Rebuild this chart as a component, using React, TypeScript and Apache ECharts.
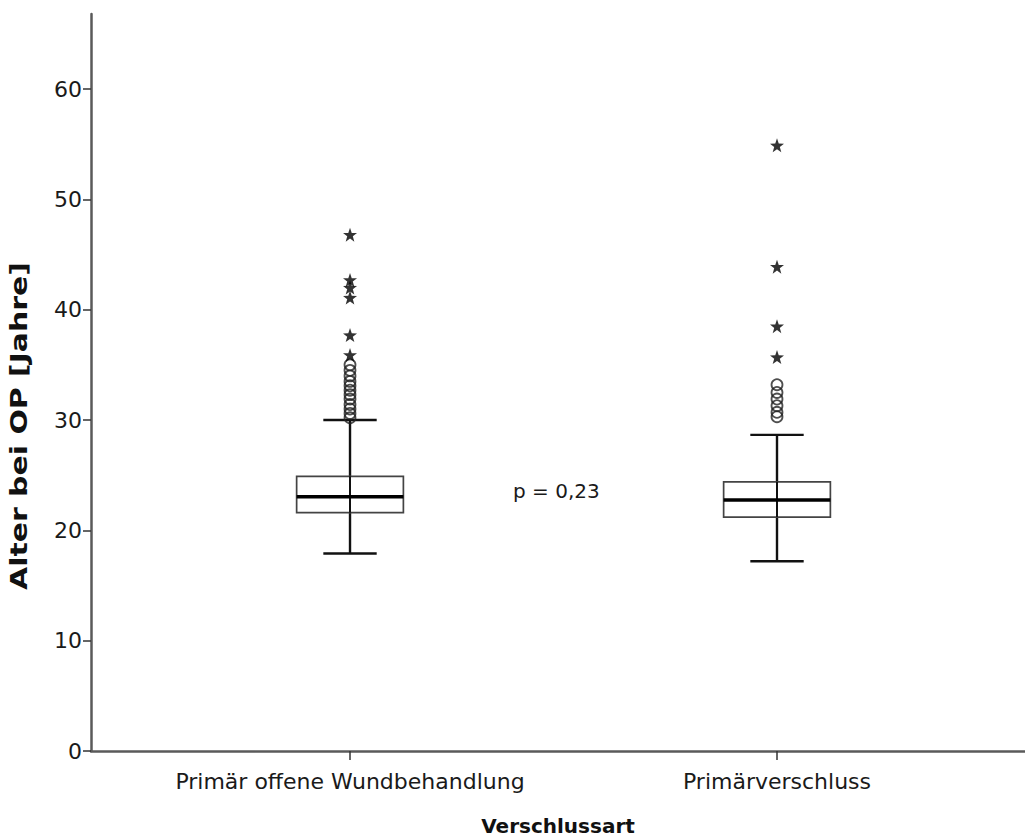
import React, { useEffect, useRef } from "react";
import * as echarts from "echarts";

// Categories (x positions 0 and 1)
const categories = ["Primär offene Wundbehandlung", "Primärverschluss"];

// Box statistics: [x, lowerWhisker, Q1, median, Q3, upperWhisker]
const boxStats = [
  [0, 17.9, 21.6, 23.05, 24.9, 30.0],
  [1, 17.2, 21.2, 22.75, 24.4, 28.65],
];

// Moderate outliers (circles)
const circleOutliers0 = [30.2, 30.6, 31.0, 31.4, 31.9, 32.3, 32.7, 33.1, 33.5, 34.0, 34.5, 35.0];
const circleOutliers1 = [30.3, 30.7, 31.3, 31.9, 32.5, 33.2];

// Extreme outliers (stars)
const starOutliers0 = [35.9, 37.7, 41.1, 42.0, 42.7, 46.8];
const starOutliers1 = [35.7, 38.5, 43.9, 54.9];

const yTicks = [0, 10, 20, 30, 40, 50, 60];
const pText = "p = 0,23";
const yTitle = "Alter bei OP [Jahre]";
const xTitle = "Verschlussart";

const STAR =
  "path://M50 0 L61.76 33.82 L97.55 34.55 L69.02 56.18 L79.39 90.45 L50 70 L20.61 90.45 L30.98 56.18 L2.45 34.55 L38.24 33.82 Z";

const FONT = "DejaVu Sans";

export default function App() {
  const ref = useRef<HTMLDivElement>(null);
  useEffect(() => {
    if (!ref.current) return;
    const chart = echarts.init(ref.current, undefined, { renderer: "svg" });

    const circles = [
      ...circleOutliers0.map((v) => [0, v]),
      ...circleOutliers1.map((v) => [1, v]),
    ];
    const stars = [
      ...starOutliers0.map((v) => [0, v]),
      ...starOutliers1.map((v) => [1, v]),
    ];

    const option: any = {
      animation: false,
      backgroundColor: "#ffffff",
      grid: { left: 91, right: 0, top: 14, bottom: 86, containLabel: false, outerBoundsMode: "none" },
      xAxis: {
        type: "value",
        min: -0.6066,
        max: 1.5808,
        name: xTitle,
        nameLocation: "middle",
        nameGap: 65,
        nameTextStyle: { fontFamily: FONT, fontWeight: "bold", fontSize: 20, color: "#111" },
        splitLine: { show: false },
        axisLine: { show: true, onZero: false, lineStyle: { color: "#5a5a5a", width: 2.5 } },
        axisTick: { show: true, customValues: [0, 1], length: 9, lineStyle: { color: "#333", width: 1.5 } },
        axisLabel: {
          customValues: [0, 1],
          formatter: (v: number) => categories[Math.round(v)] ?? "",
          fontFamily: FONT,
          fontSize: 22,
          color: "#1a1a1a",
          margin: 19,
        },
      },
      yAxis: {
        type: "value",
        min: 0,
        max: 66.8,
        splitLine: { show: false },
        axisLine: { show: true, onZero: false, lineStyle: { color: "#5a5a5a", width: 2.5 } },
        axisTick: { show: true, customValues: yTicks, length: 8, lineStyle: { color: "#333", width: 1.5 } },
        axisLabel: {
          customValues: yTicks,
          fontFamily: FONT,
          fontSize: 22,
          color: "#1a1a1a",
          margin: 9,
        },
      },
      series: [
        {
          type: "custom",
          data: boxStats,
          encode: { x: 0, y: [1, 2, 3, 4, 5] },
          z: 2,
          renderItem: (params: any, api: any) => {
            const x = api.value(0);
            const lo = api.coord([x, api.value(1)]);
            const q1 = api.coord([x, api.value(2)]);
            const md = api.coord([x, api.value(3)]);
            const q3 = api.coord([x, api.value(4)]);
            const hi = api.coord([x, api.value(5)]);
            const bw = api.size([0.25, 0])[0];
            const hb = bw / 2;
            const hc = bw / 4;
            const cx = lo[0];
            const black = { stroke: "#111", lineWidth: 2.4 };
            return {
              type: "group",
              children: [
                { type: "line", shape: { x1: cx, y1: lo[1], x2: cx, y2: q1[1] }, style: black },
                { type: "line", shape: { x1: cx, y1: q3[1], x2: cx, y2: hi[1] }, style: black },
                { type: "line", shape: { x1: cx - hc, y1: lo[1], x2: cx + hc, y2: lo[1] }, style: black },
                { type: "line", shape: { x1: cx - hc, y1: hi[1], x2: cx + hc, y2: hi[1] }, style: black },
                {
                  type: "rect",
                  shape: { x: cx - hb, y: q3[1], width: bw, height: q1[1] - q3[1] },
                  style: { fill: "none", stroke: "#444", lineWidth: 1.7 },
                },
                { type: "line", shape: { x1: cx, y1: q1[1], x2: cx, y2: q3[1] }, style: { stroke: "#111", lineWidth: 2 } },
                { type: "line", shape: { x1: cx - hb, y1: md[1], x2: cx + hb, y2: md[1] }, style: { stroke: "#000", lineWidth: 3.4 } },
              ],
            };
          },
        },
        {
          type: "scatter",
          data: circles,
          symbol: "circle",
          symbolSize: 11,
          z: 3,
          itemStyle: { color: "rgba(255,255,255,0)", borderColor: "#222", borderWidth: 1.8 },
        },
        {
          type: "scatter",
          data: stars,
          symbol: STAR,
          symbolSize: 14,
          z: 3,
          itemStyle: { color: "#000" },
        },
      ],
      graphic: [
        {
          type: "text",
          left: 513,
          top: 481,
          style: { text: pText, fontFamily: FONT, fontSize: 20, fill: "#1a1a1a" },
        },
        {
          type: "text",
          x: 19,
          y: 426,
          rotation: Math.PI / 2,
          scaleX: 1.3,
          scaleY: 1,
          style: {
            text: yTitle,
            fontFamily: FONT,
            fontWeight: "bold",
            fontSize: 23,
            fill: "#111",
            align: "center",
            verticalAlign: "middle",
          },
        },
      ],
    };
    chart.setOption(option);
    return () => chart.dispose();
  }, []);

  return (
    <div
      ref={ref}
      style={{ position: "absolute", left: 0, top: 0, width: 1025, height: 837, background: "#fff" }}
    />
  );
}
